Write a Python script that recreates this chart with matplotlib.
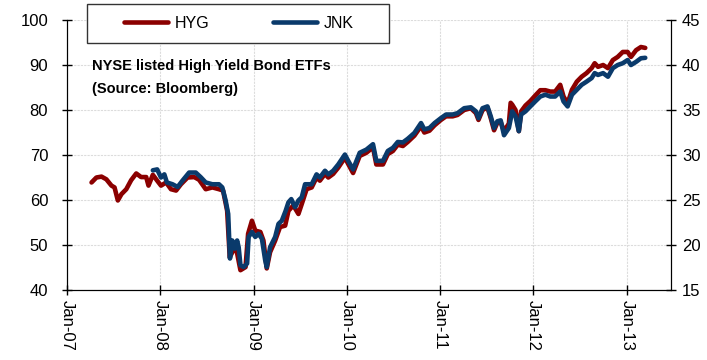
import numpy as np
import pandas as pd
import matplotlib
matplotlib.use("Agg")
import matplotlib.pyplot as plt
import matplotlib.dates as mdates
from matplotlib.patches import Rectangle

plt.rcParams['font.family'] = ['Liberation Sans', 'DejaVu Sans']

# HYG price (left axis)
hyg_dates = ['2007-04-07', '2007-04-26', '2007-05-16', '2007-06-04', '2007-06-24', '2007-07-06',
             '2007-07-19', '2007-08-02', '2007-08-21', '2007-09-09', '2007-09-29', '2007-10-18',
             '2007-11-07', '2007-11-16', '2007-12-03', '2007-12-20', '2008-01-04', '2008-01-24',
             '2008-02-12', '2008-03-03', '2008-03-22', '2008-04-17', '2008-05-13', '2008-06-01',
             '2008-06-27', '2008-07-23', '2008-08-18', '2008-09-03', '2008-09-19', '2008-09-29',
             '2008-10-13', '2008-10-22', '2008-11-10', '2008-11-30', '2008-12-10', '2008-12-25',
             '2009-01-07', '2009-01-27', '2009-02-08', '2009-02-21', '2009-03-06', '2009-03-26',
             '2009-04-14', '2009-05-04', '2009-05-17', '2009-06-05', '2009-06-25', '2009-07-08',
             '2009-07-27', '2009-08-16', '2009-09-04', '2009-09-17', '2009-10-07', '2009-10-20',
             '2009-11-08', '2009-11-28', '2009-12-24', '2010-01-06', '2010-01-25', '2010-02-20',
             '2010-03-18', '2010-04-13', '2010-04-26', '2010-05-22', '2010-06-10', '2010-06-30',
             '2010-07-19', '2010-08-08', '2010-08-27', '2010-09-22', '2010-10-18', '2010-10-31',
             '2010-11-20', '2010-12-10', '2011-01-04', '2011-01-24', '2011-02-19', '2011-03-10',
             '2011-04-05', '2011-05-01', '2011-05-21', '2011-05-31', '2011-06-16', '2011-07-05',
             '2011-07-18', '2011-07-31', '2011-08-13', '2011-08-26', '2011-09-08', '2011-09-27',
             '2011-10-04', '2011-10-10', '2011-10-23', '2011-11-05', '2011-11-14', '2011-12-01',
             '2011-12-20', '2012-01-08', '2012-01-28', '2012-02-17', '2012-03-07', '2012-03-26',
             '2012-04-15', '2012-04-28', '2012-05-14', '2012-05-31', '2012-06-19', '2012-07-08',
             '2012-07-27', '2012-08-16', '2012-08-28', '2012-09-10', '2012-09-30', '2012-10-19',
             '2012-11-07', '2012-11-26', '2012-12-16', '2013-01-04', '2013-01-17', '2013-02-06',
             '2013-02-25', '2013-03-14']
hyg = [63.9, 65.0, 65.2, 64.6, 63.2, 62.8,
       59.9, 61.3, 62.4, 64.4, 65.9, 65.1,
       65.1, 63.2, 65.6, 64.3, 63.2, 63.9,
       62.4, 62.1, 63.5, 65.0, 65.1, 64.5,
       62.4, 62.8, 62.4, 62.1, 57.6, 47.3,
       48.8, 49.9, 44.4, 45.1, 52.5, 55.4,
       53.2, 52.9, 51.0, 44.8, 48.4, 51.0,
       54.0, 54.3, 57.6, 58.8, 56.9, 59.1,
       62.4, 62.8, 65.0, 64.3, 65.8, 65.0,
       65.8, 67.2, 69.4, 68.0, 66.0, 69.8,
       70.5, 71.7, 67.9, 67.9, 70.2, 70.9,
       72.3, 72.0, 72.9, 74.3, 76.4, 75.0,
       75.4, 76.6, 77.8, 78.6, 78.6, 78.9,
       80.0, 80.4, 79.3, 77.8, 80.0, 80.6,
       78.2, 75.5, 77.2, 77.3, 75.3, 77.0,
       81.6, 81.2, 80.0, 75.3, 79.7, 81.0,
       82.0, 83.2, 84.4, 84.4, 84.1, 84.1,
       85.6, 83.0, 81.5, 84.5, 86.3, 87.4,
       88.2, 89.3, 90.4, 89.6, 90.0, 89.3,
       91.1, 91.8, 92.9, 92.9, 91.8, 93.3,
       94.0, 93.8]

# JNK price (right axis)
jnk_dates = ['2007-12-03', '2007-12-20', '2008-01-04', '2008-01-17', '2008-01-27', '2008-02-18',
             '2008-03-09', '2008-03-28', '2008-04-23', '2008-05-19', '2008-06-07', '2008-06-27',
             '2008-07-23', '2008-08-18', '2008-08-31', '2008-09-13', '2008-09-23', '2008-09-30',
             '2008-10-09', '2008-10-19', '2008-10-28', '2008-11-03', '2008-11-10', '2008-11-23',
             '2008-12-06', '2008-12-12', '2008-12-25', '2009-01-07', '2009-01-20', '2009-02-02',
             '2009-02-15', '2009-02-21', '2009-03-06', '2009-03-26', '2009-04-08', '2009-04-21',
             '2009-05-06', '2009-05-17', '2009-05-28', '2009-06-12', '2009-06-25', '2009-07-08',
             '2009-07-21', '2009-08-16', '2009-09-04', '2009-09-17', '2009-10-07', '2009-10-20',
             '2009-11-08', '2009-11-28', '2009-12-24', '2010-01-06', '2010-01-25', '2010-02-20',
             '2010-03-18', '2010-04-13', '2010-04-26', '2010-05-22', '2010-06-10', '2010-06-30',
             '2010-07-19', '2010-08-08', '2010-08-27', '2010-09-22', '2010-10-18', '2010-10-31',
             '2010-11-20', '2010-12-10', '2011-01-04', '2011-01-24', '2011-02-19', '2011-03-10',
             '2011-04-05', '2011-05-01', '2011-05-21', '2011-05-31', '2011-06-16', '2011-07-05',
             '2011-07-18', '2011-07-31', '2011-08-13', '2011-08-26', '2011-09-08', '2011-09-27',
             '2011-10-10', '2011-10-23', '2011-11-05', '2011-11-14', '2011-12-01', '2011-12-20',
             '2012-01-08', '2012-01-28', '2012-02-17', '2012-03-07', '2012-03-26', '2012-04-15',
             '2012-04-28', '2012-05-14', '2012-05-31', '2012-06-19', '2012-07-08', '2012-07-27',
             '2012-08-16', '2012-08-28', '2012-09-10', '2012-09-30', '2012-10-19', '2012-11-07',
             '2012-11-26', '2012-12-16', '2013-01-04', '2013-01-17', '2013-02-06', '2013-02-25',
             '2013-03-14']
jnk = [28.3, 28.4, 27.5, 27.85, 26.95, 26.75,
       26.45, 27.15, 28.05, 28.05, 27.55, 26.95,
       26.75, 26.75, 26.4, 24.95, 23.45, 18.5,
       20.5, 19.6, 20.5, 19.75, 17.75, 17.55,
       17.95, 20.9, 21.45, 20.9, 21.25, 20.7,
       18.3, 17.55, 19.75, 20.9, 22.35, 22.7,
       23.8, 24.75, 25.1, 24.2, 24.95, 25.3,
       26.75, 26.75, 27.85, 27.5, 28.25, 27.85,
       28.25, 28.95, 30.05, 29.35, 28.4, 30.25,
       30.6, 31.2, 29.35, 29.35, 30.45, 30.8,
       31.45, 31.4, 31.8, 32.45, 33.55, 32.85,
       33.0, 33.55, 34.1, 34.5, 34.5, 34.65,
       35.2, 35.3, 34.85, 34.1, 35.2, 35.4,
       34.3, 33.0, 33.75, 33.85, 32.2, 33.0,
       34.85, 34.3, 32.65, 34.5, 34.85, 35.4,
       35.95, 36.5, 36.7, 36.5, 36.5, 37.05,
       35.95, 35.4, 36.7, 37.25, 37.8, 38.15,
       38.55, 39.1, 38.9, 39.1, 38.7, 39.65,
       40.0, 40.2, 40.55, 40.0, 40.35, 40.75,
       40.8]

hyg_color = '#8b0000'
jnk_color = '#0a3a6b'

fig = plt.figure(figsize=(7.07, 3.6), dpi=100)
ax = fig.add_axes([0.0948, 0.1944, 0.854, 0.75])
ax2 = ax.twinx()

l1, = ax.plot(pd.to_datetime(hyg_dates), hyg, color=hyg_color, lw=3.3, label='HYG',
              solid_capstyle='round')
l2, = ax2.plot(pd.to_datetime(jnk_dates), jnk, color=jnk_color, lw=3.3, label='JNK',
               solid_capstyle='round')

ax.set_ylim(40, 100)
ax2.set_ylim(15, 45)
ax.set_yticks(np.arange(40, 101, 10))
ax2.set_yticks(np.arange(15, 46, 5))
ax.set_xlim(pd.Timestamp('2007-01-01'), pd.Timestamp('2013-06-22'))
ax.xaxis.set_major_locator(mdates.YearLocator())
ax.xaxis.set_major_formatter(mdates.DateFormatter('%b-%y'))

for a in (ax, ax2):
    a.spines['top'].set_visible(False)
    a.tick_params(direction='inout', length=7.2, width=1, labelsize=12, colors='black')
ax.tick_params(axis='x', labelrotation=270, pad=3.5)
ax.tick_params(axis='y', pad=10)
ax2.tick_params(axis='y', pad=4.5)
ax.grid(True, color='#dcdcdc', linestyle=(0, (2, 1)), linewidth=0.8)
ax.set_axisbelow(True)

ax.text(0.041, 0.855, 'NYSE listed High Yield Bond ETFs\n(Source: Bloomberg)',
        transform=ax.transAxes, ha='left', va='top', fontsize=10.5, fontweight='bold',
        linespacing=1.8)

# legend box sits partly above the plot area
box = Rectangle((0.033, 0.915), 0.50, 0.144, transform=ax.transAxes, fill=True,
                facecolor='white', edgecolor='#333333', linewidth=1, clip_on=False, zorder=5)
ax2.add_patch(box)
leg = ax2.legend([l1, l2], ['HYG', 'JNK'], ncol=2, loc='center',
                 bbox_to_anchor=(0.285, 0.987), frameon=False, fontsize=11.5,
                 handlelength=2.75, handletextpad=0.4, columnspacing=4.0,
                 borderaxespad=0, borderpad=0)
leg.set_zorder(6)

fig.savefig('out.png', dpi=100)
